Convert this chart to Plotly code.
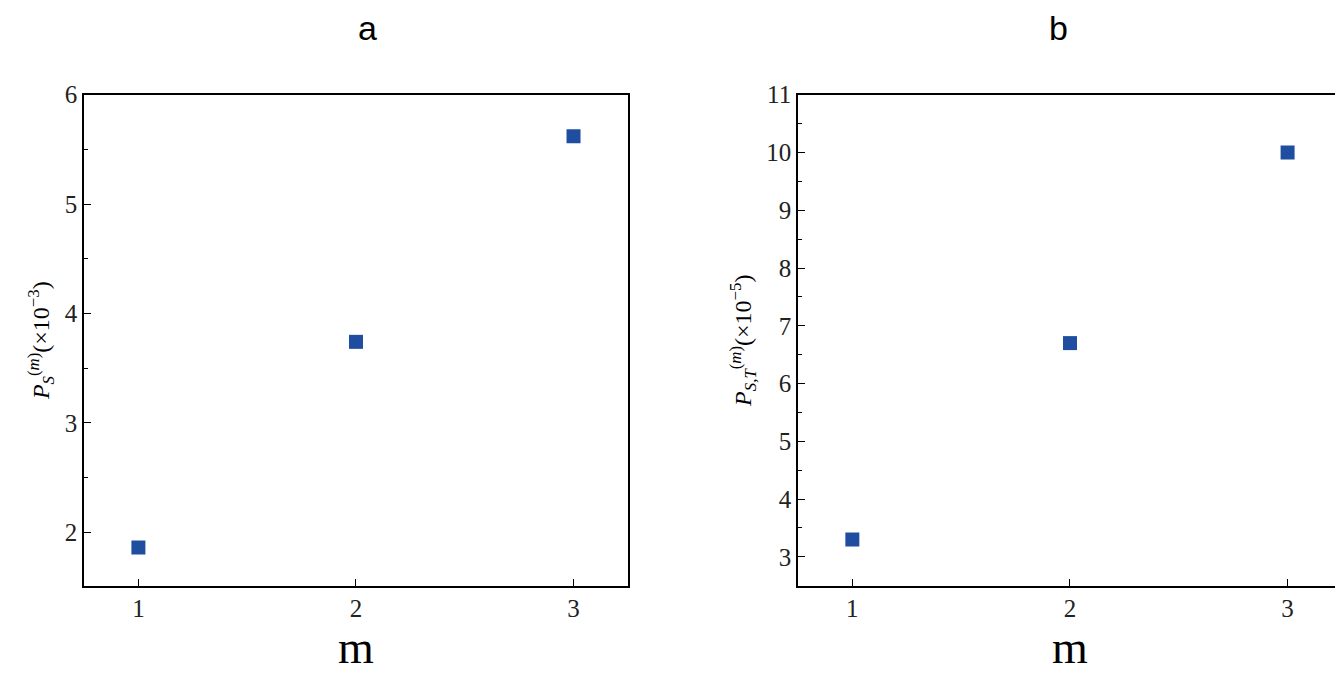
import plotly.graph_objects as go

m = [1, 2, 3]
ps = [1.86, 3.74, 5.62]
pst = [3.3, 6.7, 10.0]

fig = go.Figure()
mk = dict(symbol="square", size=14, color="#1f4ea0")
fig.add_trace(go.Scatter(x=m, y=ps, mode="markers", marker=mk, xaxis="x", yaxis="y"))
fig.add_trace(go.Scatter(x=m, y=pst, mode="markers", marker=mk, xaxis="x2", yaxis="y2"))

font = dict(family="Liberation Serif, DejaVu Serif, serif", size=25, color="#222")
ax = dict(showline=True, mirror=True, linecolor="black", linewidth=1.5, ticks="inside",
          ticklen=7, tickcolor="black", showgrid=False, zeroline=False, tickfont=font)
xax = dict(ax, tickvals=[1, 2, 3], range=[0.75, 3.25],
           title=dict(text="m", font=dict(family="Liberation Serif, serif", size=46, color="black"), standoff=8))
ytf = dict(family="Liberation Serif, serif", size=24, color="black")
dom_y = [0.1495, 0.889]
fig.update_layout(
    width=1343, height=677, plot_bgcolor="white", paper_bgcolor="white", showlegend=False,
    margin=dict(l=0, r=0, t=0, b=0),
    xaxis=dict(xax, domain=[0.0566, 0.4616], anchor="y"),
    yaxis=dict(ax, domain=dom_y, range=[1.51, 6], dtick=1, anchor="x",
               minor=dict(dtick=0.5, ticks="inside", ticklen=4, tickcolor="black"),
               title=dict(text="<i>P</i><sub><i>S</i></sub><sup>(<i>m</i>)</sup>(×10<sup>−3</sup>)",
                          font=ytf, standoff=8)),
    xaxis2=dict(xax, domain=[0.5882, 0.9933], anchor="y2"),
    yaxis2=dict(ax, domain=dom_y, range=[2.5, 11], dtick=1, anchor="x2",
                minor=dict(dtick=0.5, ticks="inside", ticklen=4, tickcolor="black"),
                title=dict(text="<i>P</i><sub><i>S,T</i></sub><sup>(<i>m</i>)</sup>(×10<sup>−5</sup>)",
                           font=ytf, standoff=8)),
    annotations=[
        dict(text="a", x=0.259, y=0.99, xref="paper", yref="paper", showarrow=False, yanchor="middle",
             font=dict(family="Liberation Sans, Arial, sans-serif", size=34, color="black")),
        dict(text="b", x=0.7908, y=0.99, xref="paper", yref="paper", showarrow=False, yanchor="middle",
             font=dict(family="Liberation Sans, Arial, sans-serif", size=34, color="black")),
    ],
)
fig.write_html("out.html")
